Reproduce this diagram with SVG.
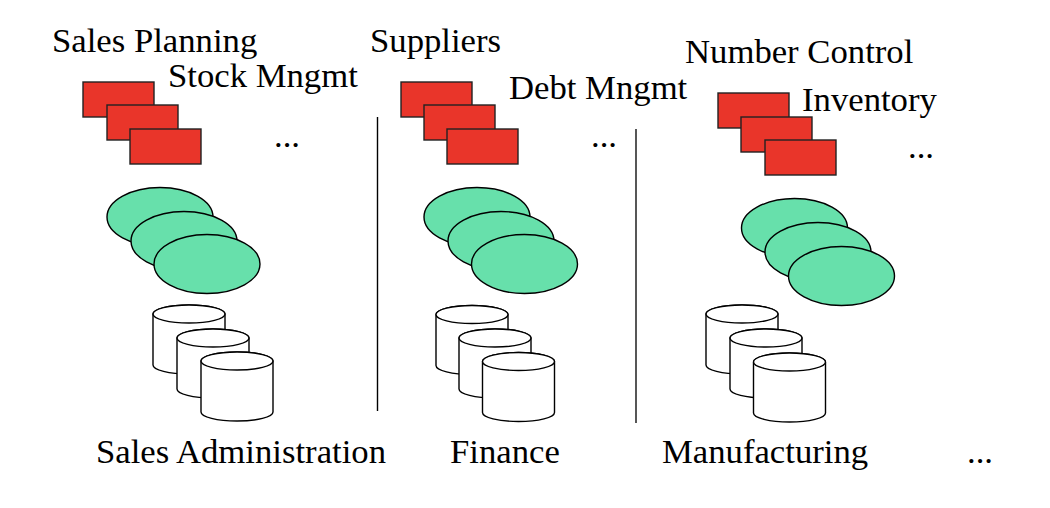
<svg xmlns="http://www.w3.org/2000/svg" width="1050" height="508" viewBox="0 0 1050 508">
<style>
text{font-family:"Liberation Serif","Times New Roman",serif;font-size:34.7px;fill:#000}
.r{fill:#e9352a;stroke:#222;stroke-width:1.4}
.e{fill:#67e0ab;stroke:#000;stroke-width:1.4}
.c{fill:#fff;stroke:#000;stroke-width:1.4}
.sep{stroke:#000;stroke-width:1.4}
</style>
<defs>
<rect id="box" class="r" width="71" height="35"/>
<ellipse id="oval" class="e" rx="53" ry="29.5"/>
<g id="cyl">
<path class="c" d="M0,9 L0,60 A36,9 0 0 0 72,60 L72,9 A36,9 0 0 0 0,9 Z"/>
<ellipse class="c" cx="36" cy="9" rx="36" ry="9"/>
</g>
</defs>
<rect width="1050" height="508" fill="#fff"/>
<g id="connectors">
<line class="sep" x1="377.5" y1="117" x2="377.5" y2="411"/>
<line class="sep" x1="636" y1="129" x2="636" y2="423" stroke="#444" style="stroke:#444;stroke-width:1.8"/>
</g>
<g id="sales">
<text x="52" y="52">Sales Planning</text>
<text x="168" y="87">Stock Mngmt</text>
<use href="#box" x="83" y="82"/>
<use href="#box" x="107" y="105"/>
<use href="#box" x="130" y="129"/>
<text x="274" y="147">...</text>
<use href="#oval" x="160" y="217"/>
<use href="#oval" x="184" y="241"/>
<use href="#oval" x="207" y="264"/>
<use href="#cyl" x="153" y="305"/>
<use href="#cyl" x="177" y="329"/>
<use href="#cyl" x="201" y="352"/>
<text x="96" y="463">Sales Administration</text>
</g>
<g id="finance">
<text x="370" y="52">Suppliers</text>
<text x="509" y="99">Debt Mngmt</text>
<use href="#box" x="401" y="82"/>
<use href="#box" x="424" y="105"/>
<use href="#box" x="447" y="129"/>
<text x="591" y="147">...</text>
<use href="#oval" x="477" y="217"/>
<use href="#oval" x="501" y="241"/>
<use href="#oval" x="524.5" y="264"/>
<use href="#cyl" x="436" y="305.5"/>
<use href="#cyl" x="459" y="329"/>
<use href="#cyl" x="482.5" y="352.5"/>
<text x="450" y="463">Finance</text>
</g>
<g id="manufacturing">
<text x="685" y="63">Number Control</text>
<text x="802" y="111">Inventory</text>
<use href="#box" x="718" y="93"/>
<use href="#box" x="741" y="117"/>
<use href="#box" x="765" y="140"/>
<text x="908" y="158">...</text>
<use href="#oval" x="794.5" y="228"/>
<use href="#oval" x="818" y="252"/>
<use href="#oval" x="841.5" y="276"/>
<use href="#cyl" x="706" y="305"/>
<use href="#cyl" x="730" y="329"/>
<use href="#cyl" x="753.5" y="353"/>
<text x="662" y="463">Manufacturing</text>
</g>
<g id="more">
<text x="967" y="463">...</text>
</g>
</svg>
